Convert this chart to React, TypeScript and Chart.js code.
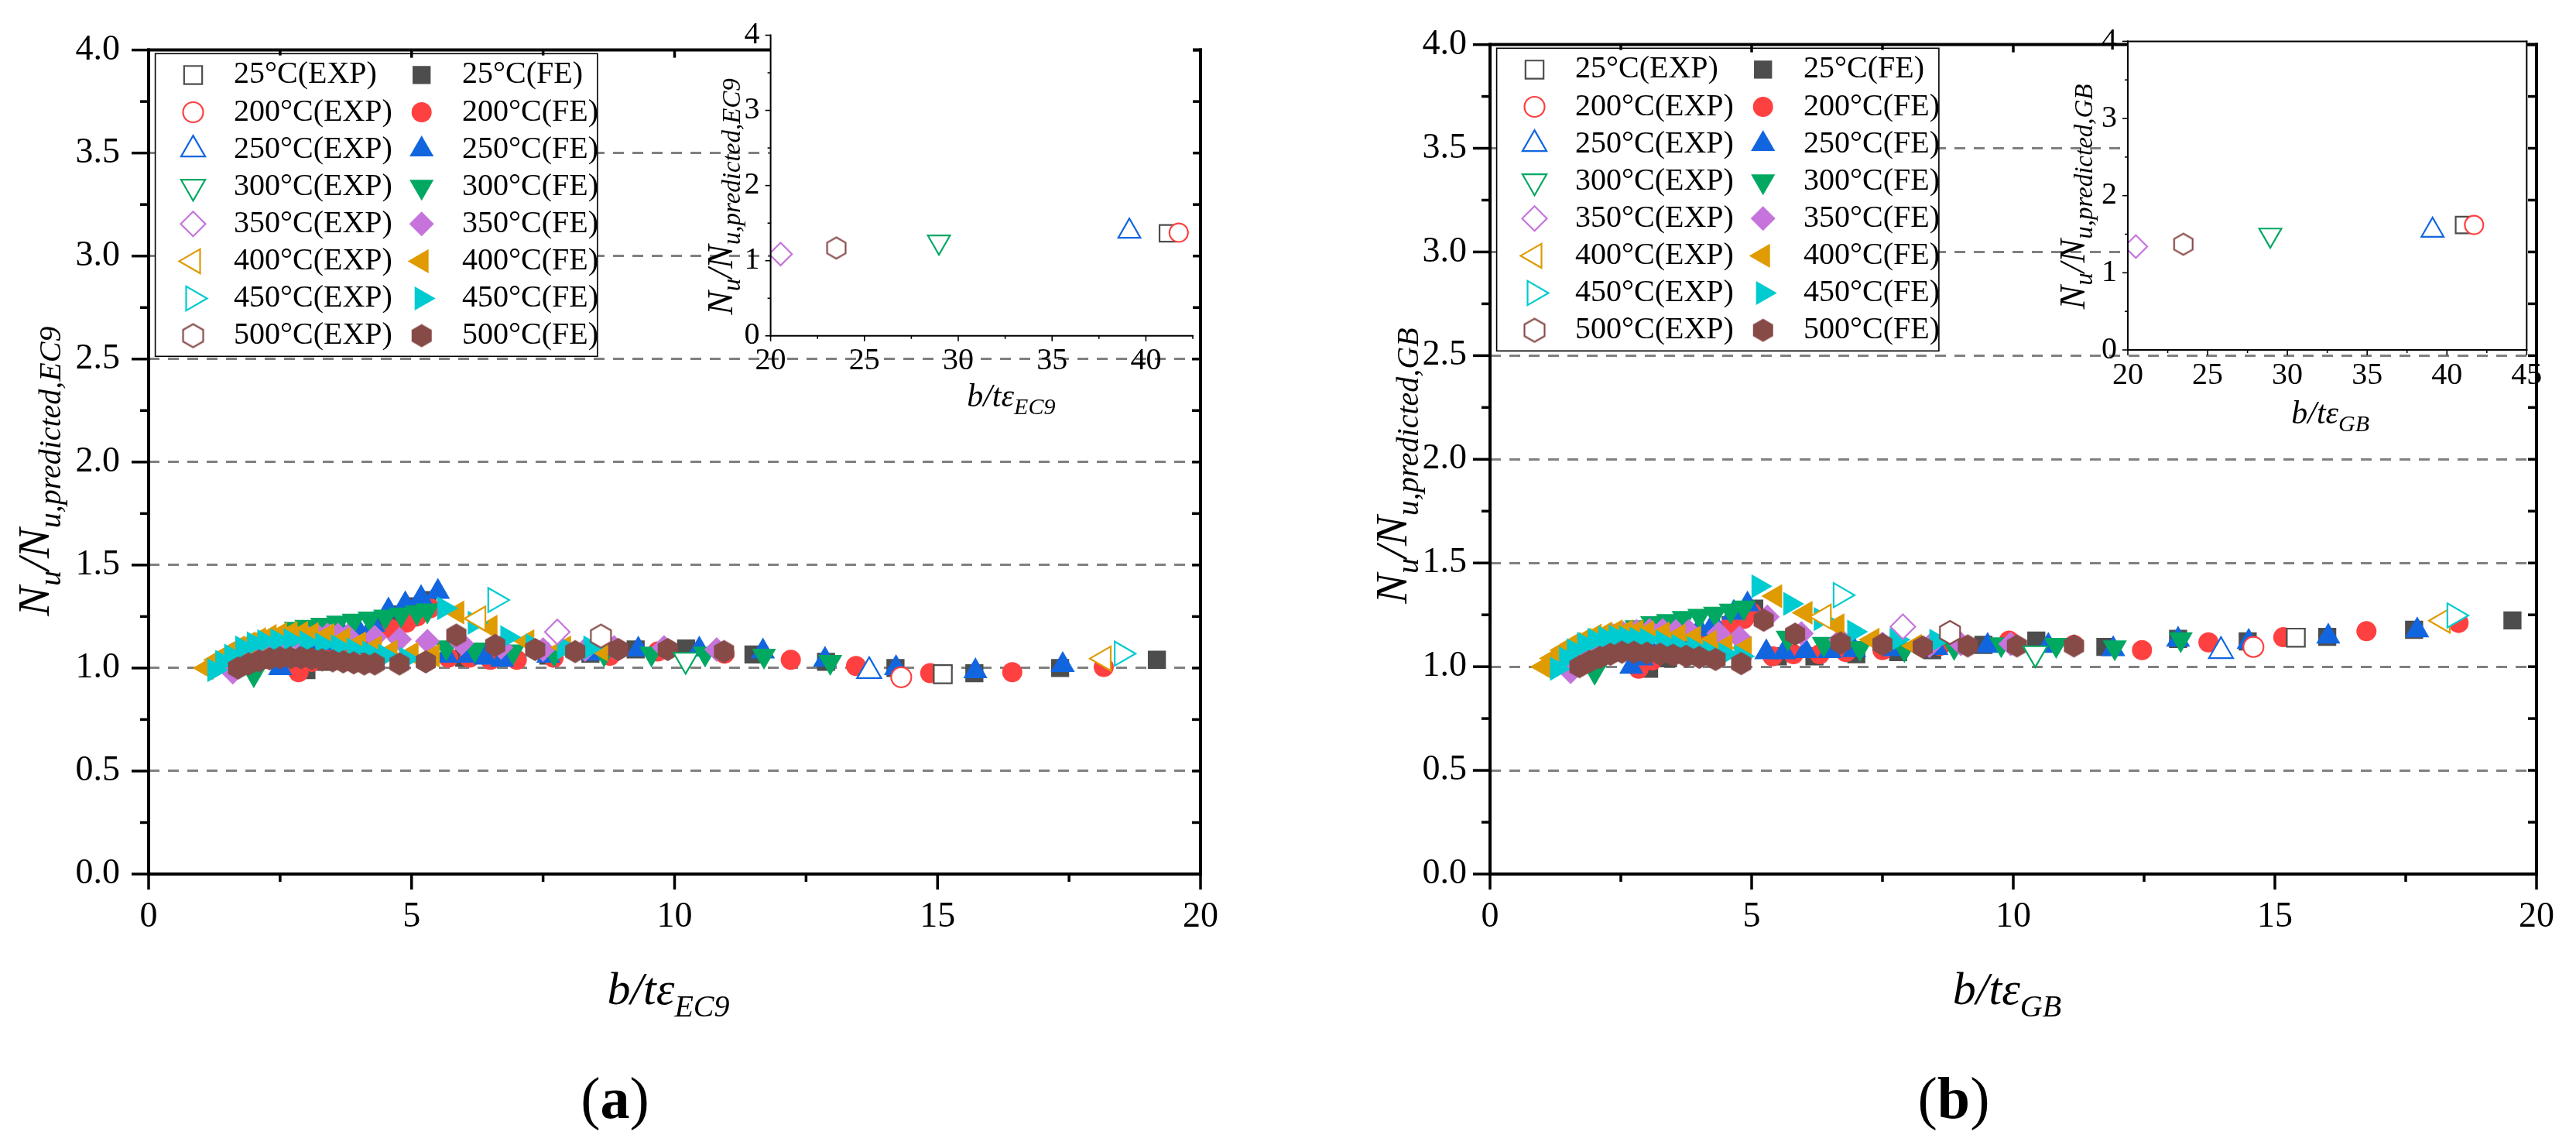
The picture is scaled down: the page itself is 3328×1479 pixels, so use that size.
import React, { useEffect, useRef } from 'react';
import { Chart, registerables } from 'chart.js';
import { drawPoint } from 'chart.js/helpers';

Chart.register(...registerables);

const SERIF = '"Liberation Serif", "Times New Roman", Times, serif';
Chart.defaults.font.family = SERIF;
Chart.defaults.color = '#000';

type Pt = [number, number];

// ---------- categories ----------
const TEMPS = ['25', '200', '250', '300', '350', '400', '450', '500'];

// ---------- panel (a): EC9, FE series ----------
const A_FE_25: Pt[] = [[3.0, 0.99], [3.3, 1.03], [3.6, 1.07], [3.9, 1.11], [4.2, 1.15], [4.5, 1.2], [4.8, 1.26], [5.05, 1.3], [5.3, 1.33], [6.0, 1.05], [6.8, 1.05], [7.6, 1.06], [8.4, 1.07], [9.26, 1.09], [10.22, 1.095], [11.5, 1.066], [12.88, 1.03], [14.2, 1.0], [15.7, 0.975], [17.33, 1.0], [19.17, 1.04]];
const A_FE_200: Pt[] = [[2.85, 0.98], [3.1, 1.03], [3.4, 1.07], [3.7, 1.1], [4.0, 1.13], [4.3, 1.16], [4.6, 1.19], [4.9, 1.22], [5.1, 1.25], [5.35, 1.29], [5.7, 1.05], [6.1, 1.05], [6.5, 1.04], [7.0, 1.04], [7.7, 1.05], [8.77, 1.06], [9.68, 1.08], [10.95, 1.07], [12.21, 1.04], [13.45, 1.01], [14.86, 0.975], [16.42, 0.98], [18.16, 1.005]];
const A_FE_250: Pt[] = [[2.5, 1.0], [2.7, 1.04], [2.9, 1.07], [3.1, 1.1], [3.3, 1.12], [3.5, 1.14], [3.7, 1.16], [3.97, 1.19], [4.27, 1.21], [4.56, 1.28], [4.88, 1.31], [5.18, 1.34], [5.5, 1.37], [5.66, 1.06], [6.09, 1.06], [6.4, 1.05], [6.72, 1.04], [7.6, 1.06], [8.45, 1.07], [9.31, 1.09], [10.47, 1.09], [11.68, 1.08], [12.86, 1.04], [14.21, 1.0], [15.72, 0.985], [17.38, 1.015]];
const A_FE_300: Pt[] = [[2.0, 0.97], [2.2, 1.06], [2.4, 1.12], [2.6, 1.16], [2.8, 1.19], [3.0, 1.2], [3.3, 1.21], [3.6, 1.22], [3.9, 1.23], [4.2, 1.24], [4.5, 1.25], [4.8, 1.26], [5.1, 1.27], [5.3, 1.28], [5.66, 1.1], [6.2, 1.09], [6.93, 1.08], [7.71, 1.07], [8.66, 1.07], [9.56, 1.07], [10.58, 1.07], [11.7, 1.06], [12.96, 1.03]];
const A_FE_350: Pt[] = [[1.6, 0.98], [1.8, 1.03], [2.0, 1.07], [2.2, 1.1], [2.4, 1.12], [2.6, 1.14], [2.8, 1.15], [3.0, 1.155], [3.2, 1.16], [3.4, 1.16], [3.6, 1.16], [3.78, 1.156], [4.3, 1.15], [4.77, 1.14], [5.3, 1.13], [5.95, 1.12], [6.7, 1.1], [7.5, 1.09], [8.3, 1.09], [8.85, 1.1], [9.8, 1.1], [10.8, 1.09]];
const A_FE_400: Pt[] = [[1.1, 1.0], [1.3, 1.04], [1.5, 1.07], [1.7, 1.1], [1.9, 1.12], [2.1, 1.14], [2.3, 1.155], [2.5, 1.165], [2.7, 1.17], [2.9, 1.17], [3.1, 1.165], [3.4, 1.16], [3.7, 1.14], [4.0, 1.12], [4.3, 1.1], [4.6, 1.08], [5.0, 1.07], [5.4, 1.06], [5.87, 1.27], [6.5, 1.2], [7.2, 1.13], [7.9, 1.1], [8.6, 1.09]];
const A_FE_450: Pt[] = [[1.25, 0.99], [1.4, 1.03], [1.57, 1.06], [1.78, 1.1], [2.0, 1.12], [2.2, 1.13], [2.45, 1.135], [2.7, 1.135], [3.0, 1.125], [3.3, 1.115], [3.6, 1.105], [3.9, 1.09], [4.2, 1.075], [4.5, 1.06], [4.9, 1.045], [5.62, 1.29], [6.2, 1.22], [6.82, 1.15], [7.3, 1.11], [7.9, 1.1], [8.4, 1.1]];
const A_FE_500: Pt[] = [[1.7, 1.0], [1.9, 1.02], [2.1, 1.035], [2.3, 1.045], [2.5, 1.05], [2.7, 1.05], [2.9, 1.05], [3.1, 1.045], [3.3, 1.04], [3.5, 1.035], [3.7, 1.03], [3.9, 1.025], [4.1, 1.02], [4.3, 1.02], [4.77, 1.02], [5.27, 1.03], [5.85, 1.16], [6.59, 1.11], [7.35, 1.09], [8.11, 1.08], [8.93, 1.09], [9.87, 1.09], [10.94, 1.08]];

// ---------- panel (a): EXP series (main plot) ----------
const A_EXP_25: Pt[] = [[15.1, 0.97]];
const A_EXP_200: Pt[] = [[14.31, 0.955]];
const A_EXP_250: Pt[] = [[13.7, 0.985]];
const A_EXP_300: Pt[] = [[10.21, 1.04]];
const A_EXP_350: Pt[] = [[7.77, 1.175]];
const A_EXP_400: Pt[] = [[6.27, 1.24], [18.16, 1.046]];
const A_EXP_450: Pt[] = [[6.59, 1.33], [18.5, 1.07]];
const A_EXP_500: Pt[] = [[8.6, 1.155]];

// ---------- panel (a): EXP series (inset) ----------
const AI_EXP_25: Pt[] = [[41.17, 1.365]];
const AI_EXP_200: Pt[] = [[41.75, 1.373]];
const AI_EXP_250: Pt[] = [[39.12, 1.39]];
const AI_EXP_300: Pt[] = [[28.97, 1.25]];
const AI_EXP_350: Pt[] = [[20.53, 1.088]];
const AI_EXP_400: Pt[] = [];
const AI_EXP_450: Pt[] = [];
const AI_EXP_500: Pt[] = [[23.5, 1.169]];

// ---------- panel (b): GB, FE series ----------
const B_FE_25: Pt[] = [[3.04, 0.99], [3.4, 1.04], [3.7, 1.08], [4.0, 1.12], [4.3, 1.16], [4.6, 1.2], [4.85, 1.25], [5.05, 1.28], [5.5, 1.05], [6.2, 1.05], [7.0, 1.06], [7.8, 1.07], [8.45, 1.08], [9.43, 1.105], [10.44, 1.126], [11.76, 1.095], [13.15, 1.134], [14.48, 1.122], [16.0, 1.144], [17.66, 1.178], [19.54, 1.223]];
const B_FE_200: Pt[] = [[2.84, 0.99], [3.1, 1.03], [3.4, 1.07], [3.7, 1.11], [4.0, 1.14], [4.3, 1.17], [4.6, 1.2], [4.85, 1.23], [5.0, 1.26], [5.4, 1.05], [5.8, 1.06], [6.3, 1.06], [6.8, 1.07], [7.5, 1.08], [8.6, 1.1], [9.92, 1.126], [11.16, 1.105], [12.46, 1.08], [13.73, 1.117], [15.16, 1.142], [16.75, 1.171], [18.51, 1.211]];
const B_FE_250: Pt[] = [[2.7, 1.0], [2.9, 1.04], [3.1, 1.07], [3.4, 1.11], [3.7, 1.15], [4.0, 1.18], [4.28, 1.21], [4.66, 1.26], [4.92, 1.3], [5.28, 1.07], [5.62, 1.07], [6.03, 1.075], [6.49, 1.075], [6.96, 1.08], [7.71, 1.085], [8.53, 1.09], [9.51, 1.1], [10.67, 1.1], [11.91, 1.085], [13.15, 1.13], [14.5, 1.12], [16.02, 1.145], [17.72, 1.175]];
const B_FE_300: Pt[] = [[2.0, 0.975], [2.2, 1.06], [2.4, 1.12], [2.6, 1.16], [2.8, 1.19], [3.1, 1.21], [3.4, 1.22], [3.7, 1.235], [4.0, 1.245], [4.3, 1.255], [4.6, 1.27], [4.85, 1.285], [5.69, 1.14], [6.38, 1.11], [7.07, 1.09], [7.92, 1.085], [8.87, 1.095], [9.77, 1.108], [10.82, 1.105], [11.94, 1.093], [13.2, 1.132]];
const B_FE_350: Pt[] = [[1.54, 0.975], [1.75, 1.04], [1.95, 1.09], [2.15, 1.12], [2.35, 1.15], [2.55, 1.16], [2.8, 1.17], [3.05, 1.175], [3.3, 1.175], [3.55, 1.17], [3.8, 1.17], [4.37, 1.16], [4.77, 1.14], [5.3, 1.24], [5.95, 1.16], [6.7, 1.13], [7.5, 1.11], [8.4, 1.1], [9.0, 1.11], [9.95, 1.11]];
const B_FE_400: Pt[] = [[1.03, 1.0], [1.2, 1.04], [1.4, 1.08], [1.6, 1.11], [1.8, 1.13], [2.0, 1.15], [2.2, 1.16], [2.4, 1.17], [2.6, 1.17], [2.8, 1.17], [3.0, 1.165], [3.3, 1.16], [3.6, 1.15], [3.9, 1.14], [4.2, 1.12], [4.5, 1.1], [4.87, 1.09], [5.45, 1.34], [6.03, 1.26], [6.64, 1.2], [7.31, 1.13], [8.12, 1.1]];
const B_FE_450: Pt[] = [[1.28, 0.99], [1.45, 1.04], [1.6, 1.08], [1.8, 1.11], [2.0, 1.13], [2.2, 1.14], [2.4, 1.145], [2.6, 1.14], [2.8, 1.135], [3.0, 1.13], [3.3, 1.12], [3.6, 1.1], [3.9, 1.09], [4.2, 1.07], [4.5, 1.06], [4.8, 1.05], [5.13, 1.388], [5.74, 1.303], [6.32, 1.23], [6.96, 1.169], [7.77, 1.13], [8.53, 1.125]];
const B_FE_500: Pt[] = [[1.71, 1.0], [1.9, 1.025], [2.1, 1.045], [2.3, 1.06], [2.52, 1.07], [2.75, 1.07], [3.0, 1.065], [3.25, 1.06], [3.5, 1.055], [3.75, 1.05], [4.0, 1.045], [4.31, 1.035], [4.8, 1.015], [5.23, 1.224], [5.83, 1.157], [6.7, 1.114], [7.5, 1.107], [8.27, 1.095], [9.13, 1.1], [10.07, 1.1], [11.16, 1.1]];

// ---------- panel (b): EXP series (main plot) ----------
const B_EXP_25: Pt[] = [[15.4, 1.14]];
const B_EXP_200: Pt[] = [[14.59, 1.095]];
const B_EXP_250: Pt[] = [[13.97, 1.075]];
const B_EXP_300: Pt[] = [[10.42, 1.065]];
const B_EXP_350: Pt[] = [[7.89, 1.193]];
const B_EXP_400: Pt[] = [[6.38, 1.241], [18.21, 1.222]];
const B_EXP_450: Pt[] = [[6.7, 1.345], [18.43, 1.247]];
const B_EXP_500: Pt[] = [[8.79, 1.165]];

// ---------- panel (b): EXP series (inset) ----------
const BI_EXP_25: Pt[] = [[41.07, 1.62]];
const BI_EXP_200: Pt[] = [[41.7, 1.62]];
const BI_EXP_250: Pt[] = [[39.1, 1.55]];
const BI_EXP_300: Pt[] = [[28.93, 1.49]];
const BI_EXP_350: Pt[] = [[20.5, 1.34]];
const BI_EXP_400: Pt[] = [];
const BI_EXP_450: Pt[] = [];
const BI_EXP_500: Pt[] = [[23.48, 1.37]];

const A_FE = [A_FE_25, A_FE_200, A_FE_250, A_FE_300, A_FE_350, A_FE_400, A_FE_450, A_FE_500];
const A_EXP = [A_EXP_25, A_EXP_200, A_EXP_250, A_EXP_300, A_EXP_350, A_EXP_400, A_EXP_450, A_EXP_500];
const AI_EXP = [AI_EXP_25, AI_EXP_200, AI_EXP_250, AI_EXP_300, AI_EXP_350, AI_EXP_400, AI_EXP_450, AI_EXP_500];
const B_FE = [B_FE_25, B_FE_200, B_FE_250, B_FE_300, B_FE_350, B_FE_400, B_FE_450, B_FE_500];
const B_EXP = [B_EXP_25, B_EXP_200, B_EXP_250, B_EXP_300, B_EXP_350, B_EXP_400, B_EXP_450, B_EXP_500];
const BI_EXP = [BI_EXP_25, BI_EXP_200, BI_EXP_250, BI_EXP_300, BI_EXP_350, BI_EXP_400, BI_EXP_450, BI_EXP_500];

// ---------- styles ----------
const COLORS = ['#4d4d4d', '#ff4040', '#1166e0', '#00a862', '#c674dc', '#e09b00', '#00cbd1', '#864a47'];
const SHAPES = ['rect', 'circle', 'triangle', 'triangle', 'rectRot', 'triangle', 'triangle', 'hexagon'];
const ROTATIONS = [0, 0, 0, 180, 0, 270, 90, 0];
const RADII = [16.5, 13, 18, 18, 16, 18, 18, 15];

const hexCache: Record<string, HTMLCanvasElement> = {};
function hexCanvas(color: string, filled: boolean, R: number): HTMLCanvasElement {
  const key = `${color}|${filled}|${R}`;
  if (hexCache[key]) return hexCache[key];
  const w = Math.ceil(2 * R * Math.cos(Math.PI / 6)) + 6;
  const h = Math.ceil(2 * R) + 6;
  const c = document.createElement('canvas');
  c.width = w;
  c.height = h;
  const g = c.getContext('2d')!;
  g.beginPath();
  for (let k = 0; k < 6; k++) {
    const ang = -Math.PI / 2 + (k * Math.PI) / 3;
    const px = w / 2 + R * Math.cos(ang);
    const py = h / 2 + R * Math.sin(ang);
    if (k === 0) g.moveTo(px, py);
    else g.lineTo(px, py);
  }
  g.closePath();
  if (filled) {
    g.fillStyle = color;
    g.fill();
  } else {
    g.fillStyle = '#ffffff';
    g.fill();
    g.lineWidth = 2.2;
    g.strokeStyle = color;
    g.stroke();
  }
  hexCache[key] = c;
  return c;
}

function marker(i: number, filled: boolean, scale: number) {
  const r = RADII[i] * scale;
  if (SHAPES[i] === 'hexagon') return { pointStyle: hexCanvas(COLORS[i], filled, r) as any, radius: r, rotation: 0 };
  return { pointStyle: SHAPES[i] as any, radius: r, rotation: ROTATIONS[i] };
}

function buildDatasets(fe: Pt[][] | null, exp: Pt[][], scale: number) {
  const ds: any[] = [];
  TEMPS.forEach((t, i) => {
    if (fe) {
      const m = marker(i, true, scale);
      ds.push({
        label: `${t}°C(FE)`,
        data: fe[i].map(([x, y]) => ({ x, y })),
        pointStyle: m.pointStyle,
        pointRadius: m.radius,
        pointRotation: m.rotation,
        pointBackgroundColor: COLORS[i],
        pointBorderColor: COLORS[i],
        pointBorderWidth: 0,
        order: 20 - i,
      });
    }
    const m2 = marker(i, false, scale);
    ds.push({
      label: `${t}°C(EXP)`,
      data: exp[i].map(([x, y]) => ({ x, y })),
      pointStyle: m2.pointStyle,
      pointRadius: m2.radius,
      pointRotation: m2.rotation,
      pointBackgroundColor: '#ffffff',
      pointBorderColor: COLORS[i],
      pointBorderWidth: 2.2,
      order: 8 - i,
    });
  });
  return ds;
}

// ---------- rich text helper ----------
type Seg = { t: string; size: number; sub?: boolean; weight?: string; style?: string };
function drawSegs(ctx: CanvasRenderingContext2D, segs: Seg[], cx: number, by: number, subShift: number) {
  const fontOf = (s: Seg) => `${s.style ?? 'italic'} ${s.weight ?? 'normal'} ${s.size}px ${SERIF}`;
  let total = 0;
  const widths = segs.map((s) => {
    ctx.font = fontOf(s);
    const w = ctx.measureText(s.t).width;
    total += w;
    return w;
  });
  let x = cx - total / 2;
  ctx.textAlign = 'left';
  ctx.textBaseline = 'alphabetic';
  segs.forEach((s, k) => {
    ctx.font = fontOf(s);
    ctx.fillText(s.t, x, by + (s.sub ? subShift : 0));
    x += widths[k];
  });
}

// ---------- frame & ticks plugin ----------
interface FrameCfg {
  lw: number;
  sides: string;
  tickW: number;
  l?: [number, number];
  r?: [number, number];
  t?: [number, number];
  b?: [number, number];
  xMajor: number;
  xMinor: number;
  yMajor: number;
  yMinor: number;
}
const isMul = (v: number, s: number) => Math.abs(v / s - Math.round(v / s)) < 1e-6;
function framePlugin(cfg: FrameCfg) {
  return {
    id: 'frame',
    afterDatasetsDraw(chart: any) {
      const { ctx, chartArea: a, scales } = chart;
      const xs = scales.x;
      const ys = scales.y;
      ctx.save();
      ctx.strokeStyle = '#000';
      ctx.lineCap = 'butt';
      const line = (x1: number, y1: number, x2: number, y2: number, w: number) => {
        ctx.lineWidth = w;
        ctx.beginPath();
        ctx.moveTo(x1, y1);
        ctx.lineTo(x2, y2);
        ctx.stroke();
      };
      const nx = Math.round((xs.max - xs.min) / cfg.xMinor);
      for (let k = 0; k <= nx; k++) {
        const v = xs.min + k * cfg.xMinor;
        const px = xs.getPixelForValue(v);
        const maj = isMul(v, cfg.xMajor);
        if (cfg.b) line(px, a.bottom, px, a.bottom + (maj ? cfg.b[0] : cfg.b[1]), cfg.tickW);
        if (cfg.t) line(px, a.top, px, a.top - (maj ? cfg.t[0] : cfg.t[1]), cfg.tickW);
      }
      const ny = Math.round((ys.max - ys.min) / cfg.yMinor);
      for (let k = 0; k <= ny; k++) {
        const v = ys.min + k * cfg.yMinor;
        const py = ys.getPixelForValue(v);
        const maj = isMul(v, cfg.yMajor);
        if (cfg.l) line(a.left, py, a.left - (maj ? cfg.l[0] : cfg.l[1]), py, cfg.tickW);
        if (cfg.r) line(a.right, py, a.right + (maj ? cfg.r[0] : cfg.r[1]), py, cfg.tickW);
      }
      ctx.lineCap = 'square';
      if (cfg.sides.includes('l')) line(a.left, a.top, a.left, a.bottom, cfg.lw);
      if (cfg.sides.includes('b')) line(a.left, a.bottom, a.right, a.bottom, cfg.lw);
      if (cfg.sides.includes('t')) line(a.left, a.top, a.right, a.top, cfg.lw);
      if (cfg.sides.includes('r')) line(a.right, a.top, a.right, a.bottom, cfg.lw);
      ctx.restore();
    },
  };
}

// ---------- legend plugin ----------
const legendPlugin = {
  id: 'boxLegend',
  afterDatasetsDraw(chart: any) {
    const { ctx, chartArea: a } = chart;
    const L = a.left + 8.6;
    const T = a.top + 4.7;
    ctx.save();
    ctx.fillStyle = '#ffffff';
    ctx.fillRect(L, T, 571.3, 391);
    ctx.strokeStyle = '#000';
    ctx.lineWidth = 1.6;
    ctx.strokeRect(L, T, 571.3, 391);
    TEMPS.forEach((t, i) => {
      const y = a.top + 32.3 + 48.1 * i;
      const mE = marker(i, false, 1);
      ctx.fillStyle = '#ffffff';
      ctx.strokeStyle = COLORS[i];
      ctx.lineWidth = 2.2;
      drawPoint(ctx, { pointStyle: mE.pointStyle, rotation: mE.rotation, radius: mE.radius, borderWidth: 2.2 } as any, a.left + 57.5, y);
      const mF = marker(i, true, 1);
      ctx.fillStyle = COLORS[i];
      ctx.strokeStyle = COLORS[i];
      drawPoint(ctx, { pointStyle: mF.pointStyle, rotation: mF.rotation, radius: mF.radius, borderWidth: 0 } as any, a.left + 352.7, y);
      ctx.fillStyle = '#000';
      ctx.font = `40px ${SERIF}`;
      ctx.textAlign = 'left';
      ctx.textBaseline = 'middle';
      ctx.fillText(`${t}°C(EXP)`, a.left + 110, y);
      ctx.fillText(`${t}°C(FE)`, a.left + 405, y);
    });
    ctx.restore();
  },
};

// ---------- titles plugin ----------
interface TitleCfg {
  ySub: string;
  xSub: string;
  yBig: number;
  ySmall: number;
  yBaseDx: number;
  yCenterDy: number;
  ySubShift: number;
  xBig: number;
  xSmall: number;
  xCenterDx: number;
  xBaseDy: number;
  xSubShift: number;
  panel?: string;
  panelDx?: number;
  panelDy?: number;
}
function titlePlugin(c: TitleCfg) {
  return {
    id: 'titles',
    afterDraw(chart: any) {
      const { ctx, chartArea: a } = chart;
      ctx.save();
      ctx.fillStyle = '#000';
      ctx.save();
      ctx.translate(a.left + c.yBaseDx, a.top + c.yCenterDy);
      ctx.rotate(-Math.PI / 2);
      drawSegs(
        ctx,
        [
          { t: 'N', size: c.yBig },
          { t: 'u', size: c.ySmall, sub: true },
          { t: '/N', size: c.yBig },
          { t: c.ySub, size: c.ySmall, sub: true },
        ],
        0,
        0,
        c.ySubShift
      );
      ctx.restore();
      const mid = (a.left + a.right) / 2;
      drawSegs(
        ctx,
        [
          { t: 'b/tε', size: c.xBig },
          { t: c.xSub, size: c.xSmall, sub: true },
        ],
        mid + c.xCenterDx,
        a.bottom + c.xBaseDy,
        c.xSubShift
      );
      if (c.panel) {
        drawSegs(
          ctx,
          [
            { t: '(', size: 76, style: 'normal' },
            { t: c.panel, size: 76, style: 'normal', weight: 'bold' },
            { t: ')', size: 76, style: 'normal' },
          ],
          mid + (c.panelDx ?? 0),
          a.bottom + (c.panelDy ?? 0),
          0
        );
      }
      ctx.restore();
    },
  };
}

const insetBg = {
  id: 'insetBg',
  beforeDraw(chart: any) {
    const { ctx, chartArea: a } = chart;
    ctx.save();
    ctx.fillStyle = '#ffffff';
    ctx.fillRect(a.left, a.top, a.right - a.left, a.bottom - a.top);
    ctx.restore();
  },
};

// ---------- configs ----------
function mainConfig(fe: Pt[][], exp: Pt[][], yAxisW: number, padRight: number, sub: string, panel: string, yPad: number, yTitleDx: number) {
  return {
    type: 'scatter',
    data: { datasets: buildDatasets(fe, exp, 1) },
    options: {
      animation: false,
      responsive: false,
      devicePixelRatio: 1,
      events: [],
      layout: { padding: { left: 0, top: 36, right: padRight, bottom: 0 } },
      plugins: { legend: { display: false }, tooltip: { enabled: false } },
      scales: {
        x: {
          type: 'linear',
          min: 0,
          max: 20,
          ticks: { stepSize: 5, font: { size: 46, family: SERIF }, color: '#000', padding: 28, maxRotation: 0 },
          grid: { display: false, drawTicks: false },
          border: { display: false },
          afterFit: (s: any) => {
            s.height = 350;
          },
        },
        y: {
          type: 'linear',
          min: 0,
          max: 4,
          ticks: {
            stepSize: 0.5,
            font: { size: 46, family: SERIF },
            color: '#000',
            padding: yPad,
            callback: (v: any) => Number(v).toFixed(1),
          },
          grid: {
            drawTicks: false,
            lineWidth: 3,
            color: (ctx: any) => (ctx.tick && (Math.abs(ctx.tick.value) < 1e-9 || Math.abs(ctx.tick.value - 4) < 1e-9) ? 'rgba(0,0,0,0)' : '#808080'),
          },
          border: { display: false, dash: [14, 11] },
          afterFit: (s: any) => {
            s.width = yAxisW;
          },
        },
      },
    },
    plugins: [
      legendPlugin,
      framePlugin({ lw: 4, sides: 'lbtr', tickW: 3.5, l: [22, 11], b: [20, 10], t: [-10, -7], r: [-11, -11], xMajor: 5, xMinor: 2.5, yMajor: 0.5, yMinor: 0.25 }),
      titlePlugin({
        ySub: `u,predicted,${sub}`,
        xSub: sub,
        yBig: 58,
        ySmall: 40,
        yBaseDx: yTitleDx,
        yCenterDy: 544,
        ySubShift: 15,
        xBig: 60,
        xSmall: 40,
        xCenterDx: -8,
        xBaseDy: 168,
        xSubShift: 16,
        panel,
        panelDx: -77,
        panelDy: 315,
      }),
    ],
  } as any;
}

function insetConfig(exp: Pt[][], o: { yAxisW: number; top: number; padRight: number; padBottom: number; xMax: number; sides: string; sub: string; yBaseDx: number; yCenterDy: number; xCenterDx: number; xBaseDy: number }) {
  return {
    type: 'scatter',
    data: { datasets: buildDatasets(null, exp, 0.92) },
    options: {
      animation: false,
      responsive: false,
      devicePixelRatio: 1,
      events: [],
      layout: { padding: { left: 0, top: o.top, right: o.padRight, bottom: o.padBottom } },
      plugins: { legend: { display: false }, tooltip: { enabled: false } },
      scales: {
        x: {
          type: 'linear',
          min: 20,
          max: o.xMax,
          ticks: { stepSize: 5, includeBounds: false, font: { size: 40, family: SERIF }, color: '#000', padding: 9, maxRotation: 0 },
          grid: { display: false, drawTicks: false },
          border: { display: false },
          afterFit: (s: any) => {
            s.height = 100;
          },
        },
        y: {
          type: 'linear',
          min: 0,
          max: 4,
          ticks: { stepSize: 1, font: { size: 40, family: SERIF }, color: '#000', padding: 14 },
          grid: { display: false, drawTicks: false },
          border: { display: false },
          afterFit: (s: any) => {
            s.width = o.yAxisW;
          },
        },
      },
    },
    plugins: [
      insetBg,
      framePlugin({ lw: 2, sides: o.sides, tickW: 1.6, l: [7, 4], b: [7, 4], xMajor: 5, xMinor: 2.5, yMajor: 1, yMinor: 0.5 }),
      titlePlugin({
        ySub: `u,predicted,${o.sub}`,
        xSub: o.sub,
        yBig: 46,
        ySmall: 33,
        yBaseDx: o.yBaseDx,
        yCenterDy: o.yCenterDy,
        ySubShift: 10,
        xBig: 42,
        xSmall: 30,
        xCenterDx: o.xCenterDx,
        xBaseDy: o.xBaseDy,
        xSubShift: 10,
      }),
    ],
  } as any;
}

export default function App() {
  const refA = useRef<HTMLCanvasElement>(null);
  const refB = useRef<HTMLCanvasElement>(null);
  const refAI = useRef<HTMLCanvasElement>(null);
  const refBI = useRef<HTMLCanvasElement>(null);

  useEffect(() => {
    document.body.style.margin = '0';
    const charts: Chart[] = [];
    charts.push(new Chart(refA.current!, mainConfig(A_FE, A_EXP, 192, 113, 'EC9', 'a', 37, -129)));
    charts.push(new Chart(refB.current!, mainConfig(B_FE, B_EXP, 261, 43, 'GB', 'b', 30, -108)));
    charts.push(
      new Chart(
        refAI.current!,
        insetConfig(AI_EXP, { yAxisW: 115.6, top: 45.5, padRight: 19, padBottom: 66.2, xMax: 42.5, sides: 'lb', sub: 'EC9', yBaseDx: -49.6, yCenterDy: 208.5, xCenterDx: 38, xBaseDy: 91 })
      )
    );
    charts.push(
      new Chart(
        refBI.current!,
        insetConfig(BI_EXP, { yAxisW: 149, top: 53.4, padRight: 35.7, padBottom: 68, xMax: 45, sides: 'lbtr', sub: 'GB', yBaseDx: -56, yCenterDy: 200.6, xCenterDx: 4, xBaseDy: 95 })
      )
    );
    return () => charts.forEach((c) => c.destroy());
  }, []);

  const abs = (left: number, top: number, w: number, h: number): React.CSSProperties => ({ position: 'absolute', left, top, width: w, height: h });

  return (
    <div style={{ position: 'absolute', left: 0, top: 0, width: 3328, height: 1479, background: '#ffffff', overflow: 'hidden' }}>
      <canvas ref={refA} width={1664} height={1479} style={abs(0, 0, 1664, 1479)} />
      <canvas ref={refB} width={1664} height={1479} style={abs(1664, 0, 1664, 1479)} />
      <canvas ref={refAI} width={680} height={600} style={abs(880, 0, 680, 600)} />
      <canvas ref={refBI} width={700} height={620} style={abs(2600, 0, 700, 620)} />
    </div>
  );
}
